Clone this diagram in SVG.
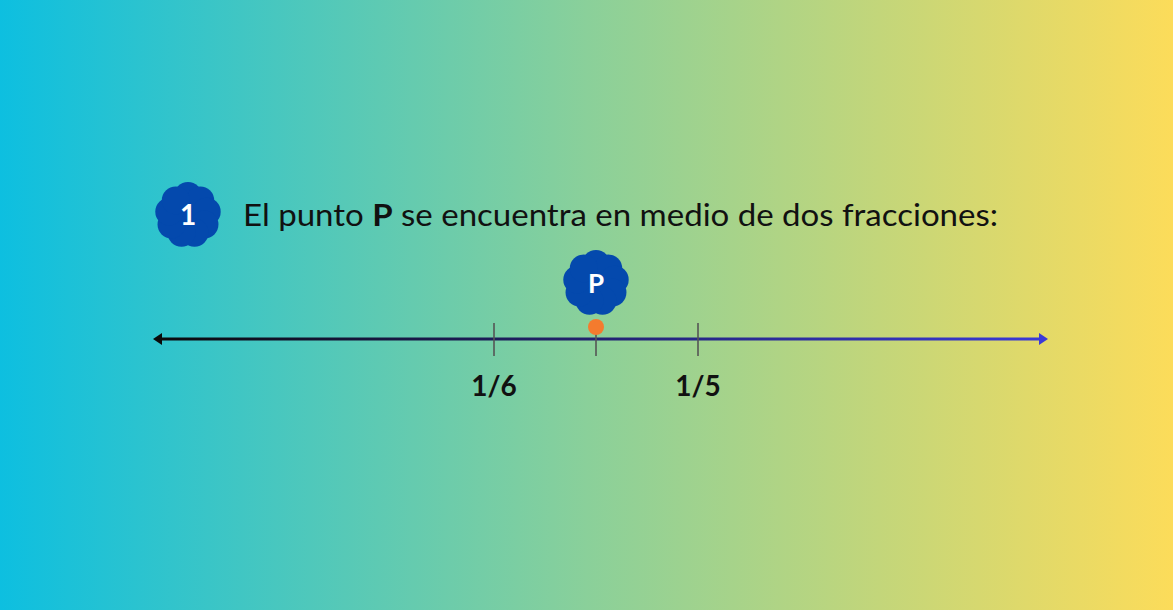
<svg xmlns="http://www.w3.org/2000/svg" xmlns:xlink="http://www.w3.org/1999/xlink" width="1173" height="610" viewBox="0 0 1173 610">
<defs>
<linearGradient id="bg" x1="0" y1="0" x2="1" y2="0">
<stop offset="0" stop-color="#0dbfe0"/>
<stop offset="0.5" stop-color="#8ad09a"/>
<stop offset="1" stop-color="#fcdc5a"/>
</linearGradient>
<linearGradient id="axis" gradientUnits="userSpaceOnUse" x1="155" y1="0" x2="1047" y2="0">
<stop offset="0" stop-color="#0a0a0a"/>
<stop offset="1" stop-color="#3a3ad8"/>
</linearGradient>
<g id="badge" fill="#0449ad">
<circle r="27"/>
<circle cx="0" cy="-19" r="14"/>
<circle cx="12.21" cy="-14.55" r="14"/>
<circle cx="18.71" cy="-3.30" r="14"/>
<circle cx="16.45" cy="9.5" r="14"/>
<circle cx="6.50" cy="17.85" r="14"/>
<circle cx="-6.50" cy="17.85" r="14"/>
<circle cx="-16.45" cy="9.5" r="14"/>
<circle cx="-18.71" cy="-3.30" r="14"/>
<circle cx="-12.21" cy="-14.55" r="14"/>
</g>
</defs>
<style>
.t{font-family:Lato,"Noto Sans",sans-serif;fill:#111;}
.b{font-family:Lato,"Noto Sans",sans-serif;font-weight:bold;fill:#fff;text-anchor:middle;}
.tick{stroke:#555;stroke-width:1.6;}
.lab{font-family:Lato,"Noto Sans",sans-serif;font-weight:bold;font-size:28px;fill:#111;text-anchor:middle;}
</style>
<rect width="1173" height="610" fill="url(#bg)"/>
<g id="step1">
<use xlink:href="#badge" x="188" y="215"/>
<text class="b" x="188" y="225" font-size="28">1</text>
</g>
<g id="title">
<text class="t" x="243" y="226" font-size="30" textLength="755" lengthAdjust="spacingAndGlyphs">El punto <tspan font-weight="bold">P</tspan> se encuentra en medio de dos fracciones:</text>
</g>
<g id="connectors">
<line x1="160" y1="339" x2="1040" y2="339" stroke="url(#axis)" stroke-width="3"/>
<polygon points="153,339 162,333 162,345" fill="#0a0a0a"/>
<polygon points="1048,339 1039,333 1039,345" fill="#3a3ad8"/>
<line class="tick" x1="494" y1="323" x2="494" y2="356"/>
<line class="tick" x1="698" y1="323" x2="698" y2="356"/>
<line class="tick" x1="596" y1="333" x2="596" y2="356"/>
</g>
<g id="pointP">
<use xlink:href="#badge" x="596" y="283"/>
<text class="b" x="596" y="293" font-size="26">P</text>
<circle cx="596" cy="327" r="8" fill="#f47b2e"/>
</g>
<g id="label16"><text class="lab" x="494" y="396">1/6</text></g>
<g id="label15"><text class="lab" x="698" y="396">1/5</text></g>
</svg>
